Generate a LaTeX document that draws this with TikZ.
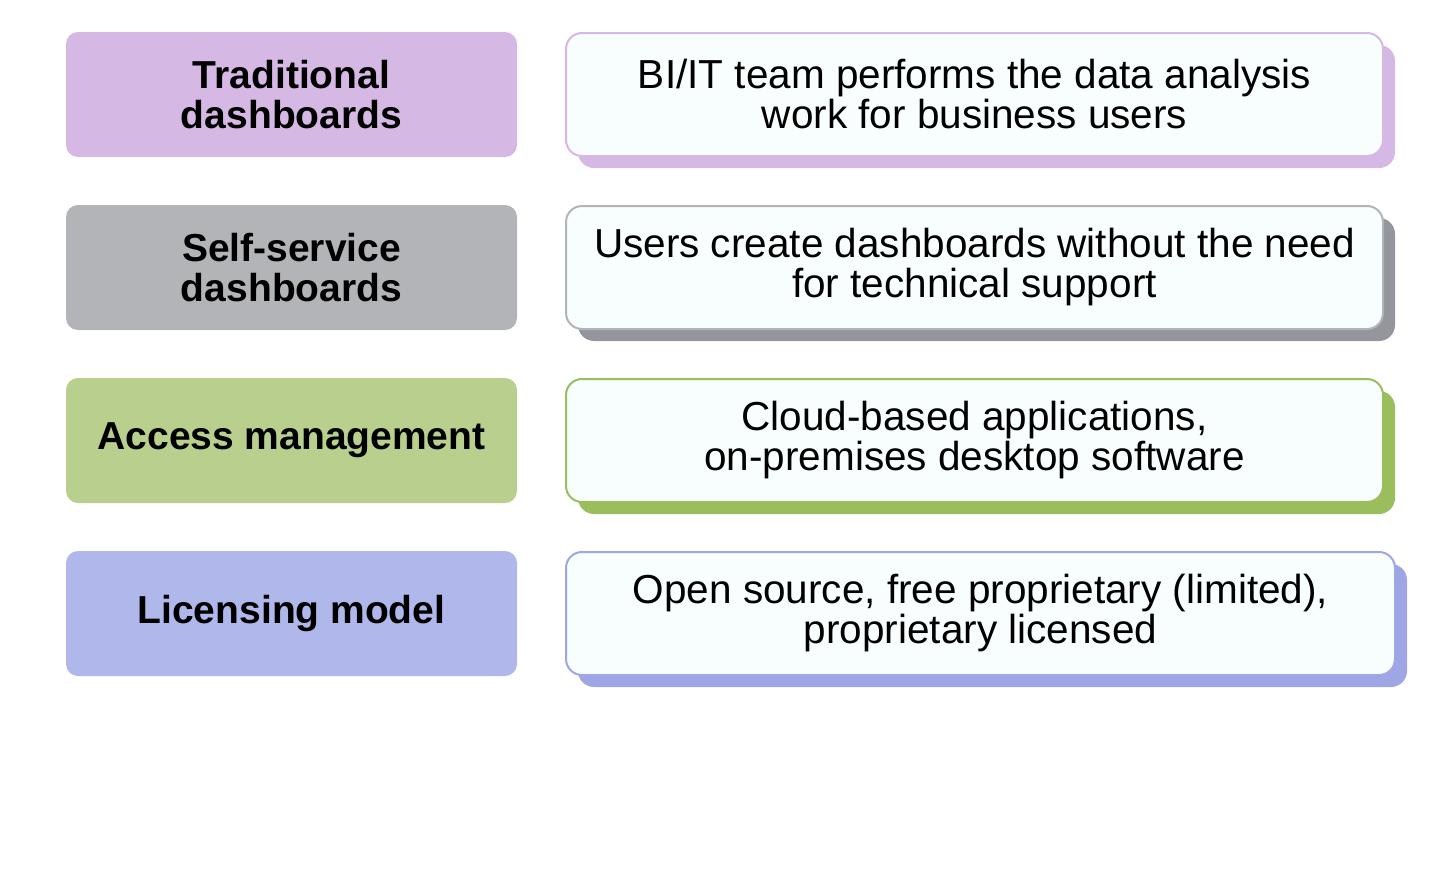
\documentclass[tikz,border=0pt]{standalone}
\usepackage{fontspec}
\setmainfont{Liberation Sans}
\usetikzlibrary{positioning}
\definecolor{purpleA}{HTML}{D5B8E4}
\definecolor{grayA}{HTML}{B3B4B8}
\definecolor{grayB}{HTML}{95969D}
\definecolor{greenA}{HTML}{B8CF8E}
\definecolor{greenB}{HTML}{9BBE5C}
\definecolor{blueA}{HTML}{B0B7EA}
\definecolor{blueB}{HTML}{9FA6E6}
\definecolor{paleA}{HTML}{F8FDFD}
\tikzset{
  every node/.style = {inner sep = 0pt, outer sep = 0pt},
  topic/.style = {
    rounded corners = 12pt, minimum width = 451pt, minimum height = 125pt,
    align = center, font = \fontsize{39}{40}\selectfont\bfseries
  },
  detail/.style = {
    rounded corners = 16pt, minimum width = 817pt, minimum height = 123pt,
    align = center, fill = paleA, line width = 2pt,
    font = \fontsize{40.5}{40}\selectfont
  }
}
\begin{document}
\begin{tikzpicture}[x=1pt, y=-1pt]
  \useasboundingbox (0,0) rectangle (1436,881);
  % left column
  \node [topic, fill=purpleA, anchor=north west] (trad) at (66,32) {Traditional\\dashboards};
  \node [topic, fill=grayA, anchor=north west] (self) at (66,205) {Self-service\\dashboards};
  \node [topic, fill=greenA, anchor=north west] (access) at (66,378) {Access management};
  \node [topic, fill=blueA, anchor=north west] (lic) at (66,551) {Licensing model};
  % right column, shadows first
  \fill [purpleA, rounded corners=16pt] (578,45) rectangle (1395,168);
  \fill [grayB, rounded corners=16pt] (578,218) rectangle (1395,341);
  \fill [greenB, rounded corners=16pt] (578,391) rectangle (1395,514);
  \fill [blueB, rounded corners=16pt] (578,564) rectangle (1407,687);
  \node [detail, draw=purpleA, anchor=north west] (tradtxt) at (566,33)
    {BI/IT team performs the data analysis\\work for business users};
  \node [detail, draw=grayA, anchor=north west] (selftxt) at (566,206)
    {Users create dashboards without the need\\for technical support};
  \node [detail, draw=greenB, anchor=north west] (accesstxt) at (566,379)
    {Cloud-based applications,\\on-premises desktop software};
  \node [detail, draw=blueB, minimum width=829pt, anchor=north west] (lictxt) at (566,552)
    {Open source, free proprietary (limited),\\proprietary licensed};
\end{tikzpicture}
\end{document}
